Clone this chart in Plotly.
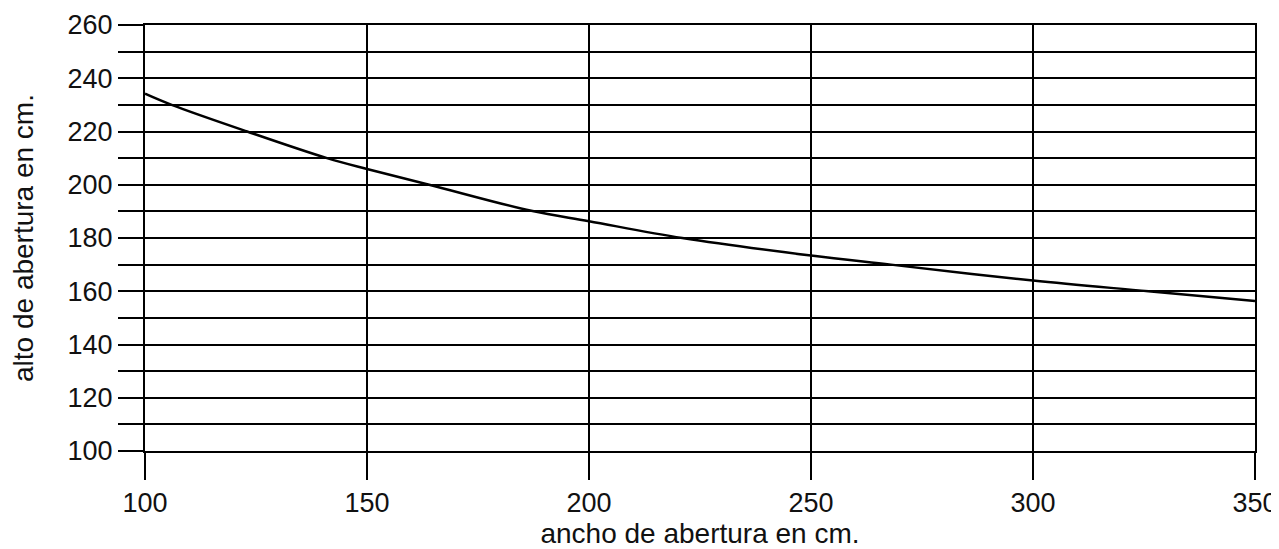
import plotly.graph_objects as go

# curve
ancho = [100, 106, 123, 141, 150, 164, 187, 200, 221, 250, 268, 300, 326, 350]
alto = [234.2, 230, 220, 210, 205.9, 200, 190.2, 186.3, 180, 173.4, 170, 164, 160, 156.3]

x_ticks = [100, 150, 200, 250, 300, 350]
y_ticks = list(range(100, 261, 10))
y_labels = [str(v) if v % 20 == 0 else "" for v in y_ticks]

FONT = "Liberation Sans, Arial, sans-serif"
INK = "#111111"

fig = go.Figure()
fig.add_trace(go.Scatter(
    x=ancho, y=alto, mode="lines",
    line=dict(color="black", width=2.5, shape="spline", smoothing=1.0),
    hoverinfo="x+y", showlegend=False,
))

# page body adds an 8px offset, margins are set to compensate
fig.update_layout(
    width=1271, height=541, autosize=False,
    paper_bgcolor="white", plot_bgcolor="white",
    margin=dict(l=137, r=24, t=17, b=98),
    font=dict(family=FONT, size=27, color=INK),
    xaxis=dict(
        range=[100, 350], tickvals=x_ticks, automargin=False,
        showgrid=True, gridcolor="black", gridwidth=2,
        showline=True, linecolor="black", linewidth=2, mirror=True,
        ticks="outside", ticklen=27, tickwidth=2, tickcolor="black",
        zeroline=False,
        title=dict(text="ancho de abertura en cm.", font=dict(size=28), standoff=14),
    ),
    yaxis=dict(
        range=[100, 260], tickvals=y_ticks, ticktext=y_labels, automargin=False,
        showgrid=True, gridcolor="black", gridwidth=2,
        showline=True, linecolor="black", linewidth=2, mirror=True,
        ticks="outside", ticklen=25, tickwidth=2, tickcolor="black",
        zeroline=False,
        title=dict(text="alto de abertura en cm.", font=dict(size=28), standoff=30),
    ),
)

fig.write_html("out.html")
